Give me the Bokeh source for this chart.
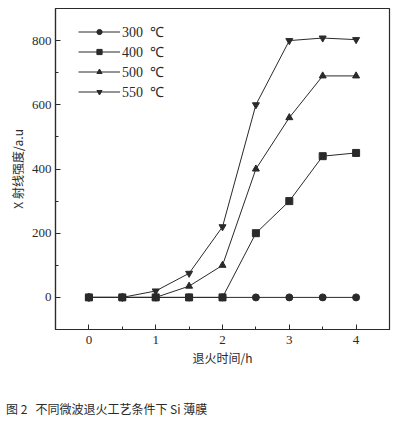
from bokeh.plotting import figure
from bokeh.layouts import column
from bokeh.models import Range1d, FixedTicker, Legend, LegendItem, Div
from bokeh.embed import file_html
from bokeh.resources import INLINE

times = [0, 0.5, 1, 1.5, 2, 2.5, 3, 3.5, 4]
s300 = [0, 0, 0, 0, 0, 0, 0, 0, 0]
s400 = [0, 0, 0, 0, 0, 200, 300, 440, 450]
s500 = [0, 0, 0, 35, 100, 400, 560, 690, 690]
s550 = [0, 0, 20, 75, 220, 600, 800, 808, 803]
labels = ["300\u00a0\u00a0\u2103", "400\u00a0\u00a0\u2103", "500\u00a0\u00a0\u2103", "550\u00a0\u00a0\u2103"]
markers = ["circle", "square", "triangle", "inverted_triangle"]
x_ticks = [0, 1, 2, 3, 4]
y_ticks = [0, 200, 400, 600, 800]
caption = "图 2&nbsp;&nbsp;&nbsp;不同微波退火工艺条件下 Si 薄膜"

SERIF = "Liberation Serif"
CJK = "Noto Sans CJK SC"
INK = "#2a2a2a"

p = figure(width=395, height=395, output_backend="svg", toolbar_location=None,
           x_range=Range1d(-0.5, 4.5), y_range=Range1d(-100, 900),
           min_border_left=55, min_border_right=6, min_border_top=8, min_border_bottom=66)
p.background_fill_color = "white"
p.border_fill_color = "white"
p.outline_line_color = INK
p.outline_line_width = 1.2
p.grid.visible = False

for ax in (p.xaxis[0], p.yaxis[0]):
    ax.axis_line_color = INK
    ax.axis_line_width = 1.2
    ax.major_tick_line_color = INK
    ax.minor_tick_line_color = INK
    ax.major_tick_in = 5
    ax.major_tick_out = 0
    ax.minor_tick_in = 3
    ax.minor_tick_out = 0
    ax.major_label_text_font = SERIF
    ax.major_label_text_font_size = "13px"
    ax.major_label_text_color = INK
    ax.axis_label_text_font = CJK
    ax.axis_label_text_font_size = "12px"
    ax.axis_label_text_font_style = "normal"
    ax.axis_label_text_color = INK

p.xaxis.ticker = FixedTicker(ticks=x_ticks, minor_ticks=[-0.5, 0.5, 1.5, 2.5, 3.5, 4.5])
p.yaxis.ticker = FixedTicker(ticks=y_ticks, minor_ticks=[100, 300, 500, 700])
p.xaxis.major_label_standoff = 6
p.yaxis.major_label_standoff = 4
p.xaxis.axis_label = "退火时间/h"
p.yaxis.axis_label = "X 射线强度/a.u"
p.xaxis.axis_label_standoff = 2
p.yaxis.axis_label_standoff = 3

items = []
for vals, lab, mk in zip([s300, s400, s500, s550], labels, markers):
    ln = p.line(times, vals, line_color=INK, line_width=1)
    sc = p.scatter(times, vals, marker=mk, size=7,
                   fill_color=INK, line_color=INK)
    items.append(LegendItem(label=lab, renderers=[ln, sc]))

legend = Legend(items=items, location=(23, 228), padding=0, spacing=0,
                glyph_width=42, glyph_height=13, label_height=20,
                label_standoff=2, label_text_font=SERIF, label_text_font_size="14px",
                label_text_color=INK, border_line_alpha=0, background_fill_alpha=0)
p.add_layout(legend)

div = Div(text=caption, width=395, height=24, margin=0,
          styles={"font-family": CJK, "font-size": "12px", "color": INK,
                  "line-height": "16px", "padding-top": "6px", "padding-left": "6px",
                  "white-space": "nowrap"})

layout = column(p, div, spacing=0)
open("out.html", "w").write(file_html(layout, INLINE))
